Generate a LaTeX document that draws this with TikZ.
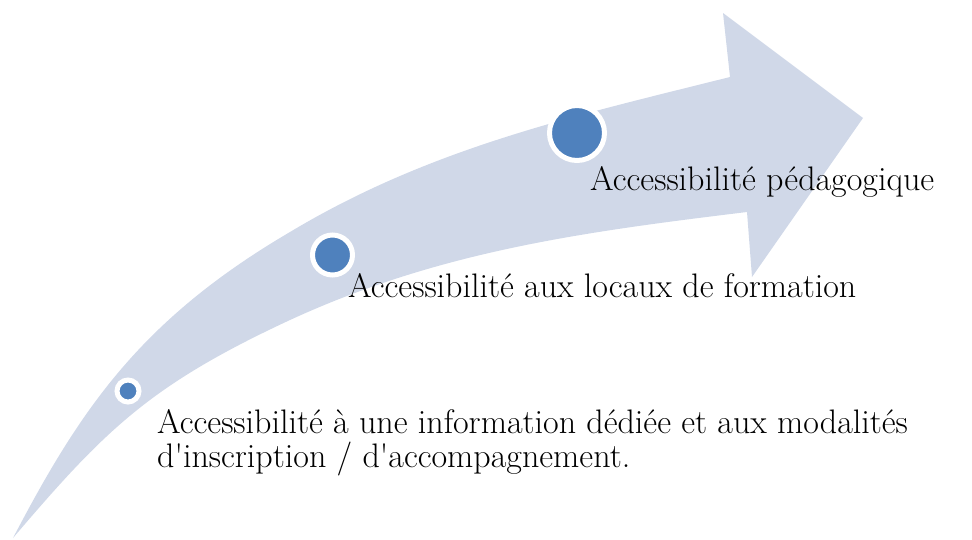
\documentclass[tikz,border=0pt]{standalone}
\usepackage{fontspec}
\definecolor{arrowfill}{HTML}{D0D8E8}
\definecolor{dotfill}{HTML}{4F81BD}
\begin{document}
\begin{tikzpicture}[x=1pt,y=-1pt,
  dot/.style={circle,fill=dotfill,draw=white,inner sep=0pt},
  label/.style={anchor=base west,inner sep=0pt,font=\fontsize{34}{34}\selectfont,align=left}]
\useasboundingbox (0,0) rectangle (972,539);
% curved arrow
\fill[arrowfill]
  (13,538) .. controls (80,410) and (140,320) .. (290,232)
           .. controls (430,148) and (572,116.5) .. (730,77)
  -- (723,13) -- (863,118) -- (752,277) -- (747,212)
           .. controls (583,232) and (440,251) .. (290,320)
           .. controls (150,385) and (105,430) .. (13,538)
  -- cycle;
% dots
\node[dot,minimum size=22pt,line width=5pt] (c1) at (128,391) {};
\node[dot,minimum size=40pt,line width=5pt] (c2) at (332.5,255) {};
\node[dot,minimum size=55pt,line width=5pt] (c3) at (577,133) {};
% labels
\node[label] (t3) at (590,190) {Accessibilité pédagogique};
\node[label] (t2) at (348,297) {Accessibilité aux locaux de formation};
\node[label] (t1) at (157,467) {Accessibilité à une information dédiée et aux modalités\\d\textquotesingle inscription / d\textquotesingle accompagnement.};
\end{tikzpicture}
\end{document}
